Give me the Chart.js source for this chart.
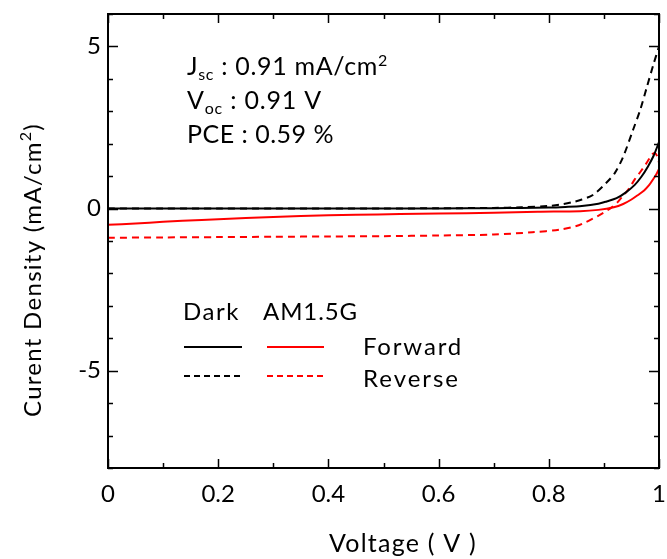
<!DOCTYPE html>
<html>
<head>
<meta charset="utf-8">
<script src="https://cdn.jsdelivr.net/npm/chart.js@4"></script>
<style>
  html, body { margin: 0; padding: 0; background: #fff; }
  #wrap { width: 667px; height: 559px; }
</style>
</head>
<body>
<div id="wrap"><canvas id="c" width="667" height="559"></canvas></div>
<script>
// ---- data ----
const darkFwdV = [0, 0.1, 0.2, 0.3, 0.4, 0.5, 0.6, 0.7, 0.75, 0.8, 0.83, 0.86, 0.89, 0.905, 0.923, 0.94, 0.956, 0.968, 0.98, 0.99, 1.0];
const darkFwdJ = [0, 0, 0, 0, 0, 0, 0.005, 0.01, 0.02, 0.03, 0.05, 0.08, 0.15, 0.22, 0.32, 0.5, 0.73, 0.98, 1.3, 1.62, 2.05];

const darkRevV = [0, 0.1, 0.2, 0.3, 0.4, 0.5, 0.6, 0.7, 0.75, 0.8, 0.82, 0.844, 0.86, 0.88, 0.904, 0.92, 0.935, 0.953, 0.966, 0.978, 0.99, 1.0];
const darkRevJ = [0, 0, 0, 0, 0, 0, 0.01, 0.02, 0.04, 0.08, 0.12, 0.2, 0.28, 0.42, 0.79, 1.1, 1.6, 2.43, 3.05, 3.75, 4.45, 5.0];

const amFwdV = [0, 0.05, 0.1, 0.17, 0.25, 0.35, 0.45, 0.53, 0.6, 0.7, 0.78, 0.857, 0.89, 0.918, 0.935, 0.95, 0.962, 0.973, 0.982, 0.99, 0.995, 1.0];
const amFwdJ = [-0.5, -0.46, -0.41, -0.35, -0.29, -0.23, -0.19, -0.17, -0.15, -0.13, -0.1, -0.08, -0.04, 0.04, 0.14, 0.28, 0.42, 0.56, 0.72, 0.92, 1.05, 1.22];

const amRevV = [0, 0.1, 0.2, 0.3, 0.4, 0.5, 0.6, 0.7, 0.77, 0.82, 0.85, 0.867, 0.88, 0.892, 0.905, 0.915, 0.925, 0.935, 0.945, 0.956, 0.967, 0.978, 0.988, 0.993, 0.997, 1.0];
const amRevJ = [-0.9, -0.89, -0.88, -0.87, -0.86, -0.85, -0.83, -0.8, -0.73, -0.65, -0.54, -0.42, -0.31, -0.2, -0.07, 0.05, 0.2, 0.4, 0.6, 0.9, 1.15, 1.42, 1.68, 1.71, 1.6, 1.42];

const xTickValues = [0, 0.2, 0.4, 0.6, 0.8, 1];
const xTickLabels = ['0', '0.2', '0.4', '0.6', '0.8', '1'];
const xMinorTicks = [0, 0.1, 0.2, 0.3, 0.4, 0.5, 0.6, 0.7, 0.8, 0.9, 1];
const yTickValues = [-5, 0, 5];
const yTickLabels = ['-5', '0', '5'];
const yMinorTicks = [-8, -7, -6, -5, -4, -3, -2, -1, 0, 1, 2, 3, 4, 5, 6];

const FONT = 'Lato, "Open Sans", "DejaVu Sans", sans-serif';
const RED = '#ff0000';

function pts(V, J) { return V.map((v, i) => ({ x: v, y: J[i] })); }

// draw a sequence of text runs, stretched with letter spacing to a target width
function richFit(ctx, parts, x, y, targetW) {
  let natural = 0, chars = 0;
  ctx.letterSpacing = '0px';
  parts.forEach(p => { ctx.font = p.size + 'px ' + FONT; natural += ctx.measureText(p.t).width; chars += p.t.length; });
  const ls = Math.max(0, (targetW - natural) / chars);
  ctx.letterSpacing = ls + 'px';
  parts.forEach(p => {
    ctx.font = p.size + 'px ' + FONT;
    ctx.fillText(p.t, x, y + (p.dy || 0));
    x += ctx.measureText(p.t).width;
  });
  ctx.letterSpacing = '0px';
}

const decor = {
  id: 'decor',
  afterDraw(chart) {
    const ctx = chart.ctx;
    const a = chart.chartArea;
    const xs = chart.scales.x, ys = chart.scales.y;
    ctx.save();
    // frame
    ctx.strokeStyle = '#000';
    ctx.lineWidth = 2;
    ctx.strokeRect(a.left, a.top, a.right - a.left, a.bottom - a.top);
    // inward ticks
    ctx.lineWidth = 1.5;
    ctx.beginPath();
    xMinorTicks.forEach(v => {
      const px = Math.round(xs.getPixelForValue(v)) + 0.5;
      const len = xTickValues.includes(v) ? 9 : 5;
      ctx.moveTo(px, a.bottom); ctx.lineTo(px, a.bottom - len);
      ctx.moveTo(px, a.top); ctx.lineTo(px, a.top + len);
    });
    yMinorTicks.forEach(v => {
      const py = Math.round(ys.getPixelForValue(v)) + 0.5;
      const len = yTickValues.includes(v) ? 10 : 5;
      ctx.moveTo(a.left, py); ctx.lineTo(a.left + len, py);
      ctx.moveTo(a.right, py); ctx.lineTo(a.right - len, py);
    });
    ctx.stroke();

    ctx.fillStyle = '#000';
    ctx.textBaseline = 'alphabetic';
    ctx.textAlign = 'left';
    // annotation text
    richFit(ctx, [{t: 'J', size: 25}, {t: 'sc', size: 16, dy: 5}, {t: ' : ', size: 25}, {t: '0.91 mA/cm', size: 25}, {t: '2', size: 16, dy: -9}], 187, 75, 201);
    richFit(ctx, [{t: 'V', size: 25}, {t: 'oc', size: 16, dy: 5}, {t: ' : ', size: 25}, {t: '0.91 V', size: 25}], 187, 109, 135);
    richFit(ctx, [{t: 'PCE', size: 25}, {t: ' : ', size: 25}, {t: '0.59 %', size: 25}], 187, 143, 147);

    // legend
    richFit(ctx, [{t: 'Dark', size: 24}], 183, 320, 57);
    richFit(ctx, [{t: 'AM1.5G', size: 24}], 263, 320, 95);
    richFit(ctx, [{t: 'Forward', size: 24}], 363, 355, 100);
    richFit(ctx, [{t: 'Reverse', size: 24}], 363, 387, 97);
    ctx.lineWidth = 2;
    ctx.strokeStyle = '#000';
    ctx.beginPath(); ctx.moveTo(184, 347); ctx.lineTo(242, 347); ctx.stroke();
    ctx.strokeStyle = RED;
    ctx.beginPath(); ctx.moveTo(267, 347); ctx.lineTo(324, 347); ctx.stroke();
    ctx.setLineDash([6, 4]);
    ctx.strokeStyle = '#000';
    ctx.beginPath(); ctx.moveTo(184, 376); ctx.lineTo(242, 376); ctx.stroke();
    ctx.strokeStyle = RED;
    ctx.beginPath(); ctx.moveTo(267, 376); ctx.lineTo(324, 376); ctx.stroke();
    ctx.setLineDash([]);

    // axis titles
    richFit(ctx, [{t: 'Voltage ( V )', size: 25}], 329, 552, 148);
    ctx.save();
    ctx.translate(41, 417);
    ctx.rotate(-Math.PI / 2);
    richFit(ctx, [{t: 'Curent Density (mA/cm', size: 24}, {t: '2', size: 16, dy: -10}, {t: ')', size: 24}], 0, 0, 294);
    ctx.restore();
    ctx.restore();
  }
};

new Chart(document.getElementById('c'), {
  type: 'scatter',
  data: {
    datasets: [
      { label: 'Dark Forward', data: pts(darkFwdV, darkFwdJ), borderColor: '#000', borderWidth: 2, showLine: true, pointRadius: 0, tension: 0.3, fill: false },
      { label: 'Dark Reverse', data: pts(darkRevV, darkRevJ), borderColor: '#000', borderWidth: 2, borderDash: [7, 5], showLine: true, pointRadius: 0, tension: 0.3, fill: false },
      { label: 'AM1.5G Forward', data: pts(amFwdV, amFwdJ), borderColor: RED, borderWidth: 2, showLine: true, pointRadius: 0, tension: 0.3, fill: false },
      { label: 'AM1.5G Reverse', data: pts(amRevV, amRevJ), borderColor: RED, borderWidth: 2, borderDash: [7, 5], showLine: true, pointRadius: 0, tension: 0.3, fill: false }
    ]
  },
  options: {
    responsive: false,
    devicePixelRatio: 1,
    animation: false,
    layout: { padding: { top: 14, right: 8, left: 0, bottom: 0 } },
    plugins: { legend: { display: false }, tooltip: { enabled: false } },
    scales: {
      x: {
        type: 'linear', min: 0, max: 1,
        grid: { display: false, drawTicks: false },
        border: { display: false },
        afterBuildTicks: s => { s.ticks = xTickValues.map(v => ({ value: v })); },
        afterFit: s => { s.height = 91; s.paddingLeft = 0; s.paddingRight = 0; },
        ticks: {
          padding: 12, color: '#000', maxRotation: 0, autoSkip: false,
          font: { family: FONT, size: 24 },
          callback: (v) => { const i = xTickValues.indexOf(v); return i >= 0 ? xTickLabels[i] : ''; }
        }
      },
      y: {
        type: 'linear', min: -8, max: 6,
        grid: { display: false, drawTicks: false },
        border: { display: false },
        afterBuildTicks: s => { s.ticks = yTickValues.map(v => ({ value: v })); },
        afterFit: s => { s.width = 108; s.paddingTop = 0; s.paddingBottom = 0; },
        ticks: {
          padding: 7, color: '#000', autoSkip: false,
          font: { family: FONT, size: 24 },
          callback: (v) => { const i = yTickValues.indexOf(v); return i >= 0 ? yTickLabels[i] : ''; }
        }
      }
    }
  },
  plugins: [decor]
});
</script>
</body>
</html>
